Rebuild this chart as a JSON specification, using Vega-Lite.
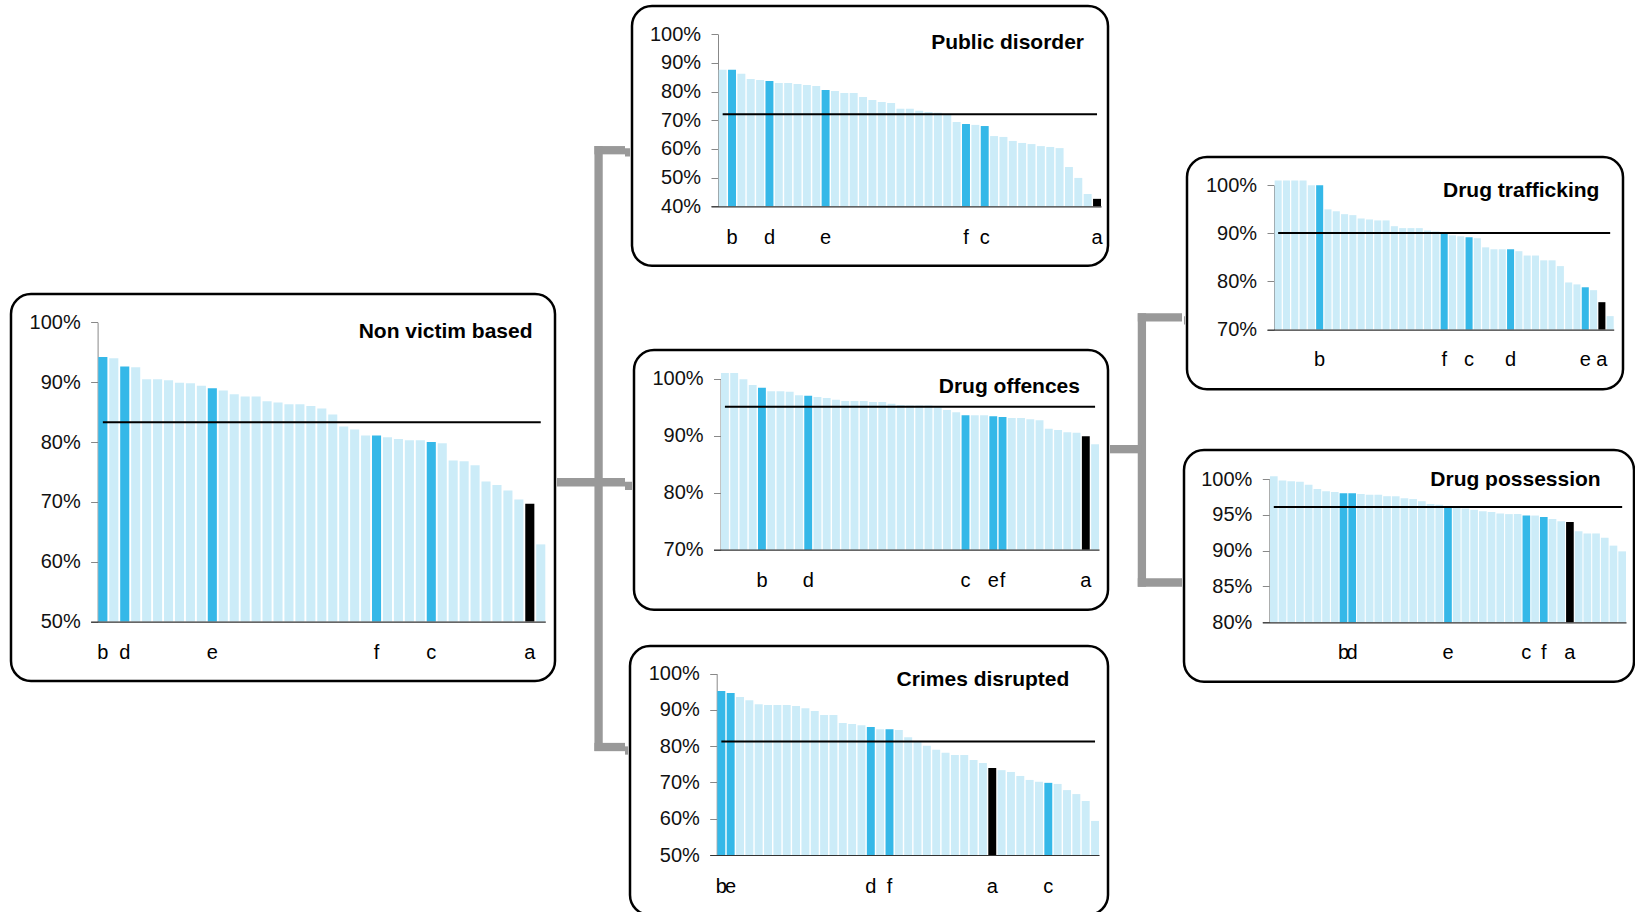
{
"$schema": "https://vega.github.io/schema/vega-lite/v6.json",
"background": "#ffffff",
"padding": 0,
"config": {"view": {"stroke": null}, "concat": {"spacing": 0}, "font": "Liberation Sans"},
"data": {"name": "bars"},
"datasets": {
"bars": [
{"p":"NV","r":1,"v":0.942,"l":"b"},{"p":"NV","r":2,"v":0.94},{"p":"NV","r":3,"v":0.926,"l":"d"},{"p":"NV","r":4,"v":0.925},{"p":"NV","r":5,"v":0.905},{"p":"NV","r":6,"v":0.905},{"p":"NV","r":7,"v":0.903},{"p":"NV","r":8,"v":0.899},{"p":"NV","r":9,"v":0.898},{"p":"NV","r":10,"v":0.894},{"p":"NV","r":11,"v":0.89,"l":"e"},{"p":"NV","r":12,"v":0.886},{"p":"NV","r":13,"v":0.88},{"p":"NV","r":14,"v":0.876},{"p":"NV","r":15,"v":0.876},{"p":"NV","r":16,"v":0.868},{"p":"NV","r":17,"v":0.866},{"p":"NV","r":18,"v":0.863},{"p":"NV","r":19,"v":0.863},{"p":"NV","r":20,"v":0.86},{"p":"NV","r":21,"v":0.856},{"p":"NV","r":22,"v":0.846},{"p":"NV","r":23,"v":0.826},{"p":"NV","r":24,"v":0.821},{"p":"NV","r":25,"v":0.811},{"p":"NV","r":26,"v":0.811,"l":"f"},{"p":"NV","r":27,"v":0.808},{"p":"NV","r":28,"v":0.805},{"p":"NV","r":29,"v":0.803},{"p":"NV","r":30,"v":0.803},{"p":"NV","r":31,"v":0.8,"l":"c"},{"p":"NV","r":32,"v":0.798},{"p":"NV","r":33,"v":0.769},{"p":"NV","r":34,"v":0.768},{"p":"NV","r":35,"v":0.761},{"p":"NV","r":36,"v":0.734},{"p":"NV","r":37,"v":0.728},{"p":"NV","r":38,"v":0.719},{"p":"NV","r":39,"v":0.704},{"p":"NV","r":40,"v":0.697,"l":"a"},{"p":"NV","r":41,"v":0.629},
{"p":"PD","r":1,"v":0.876},{"p":"PD","r":2,"v":0.876,"l":"b"},{"p":"PD","r":3,"v":0.862},{"p":"PD","r":4,"v":0.844},{"p":"PD","r":5,"v":0.841},{"p":"PD","r":6,"v":0.837,"l":"d"},{"p":"PD","r":7,"v":0.83},{"p":"PD","r":8,"v":0.83},{"p":"PD","r":9,"v":0.827},{"p":"PD","r":10,"v":0.823},{"p":"PD","r":11,"v":0.82},{"p":"PD","r":12,"v":0.806,"l":"e"},{"p":"PD","r":13,"v":0.802},{"p":"PD","r":14,"v":0.795},{"p":"PD","r":15,"v":0.795},{"p":"PD","r":16,"v":0.781},{"p":"PD","r":17,"v":0.771},{"p":"PD","r":18,"v":0.764},{"p":"PD","r":19,"v":0.76},{"p":"PD","r":20,"v":0.74},{"p":"PD","r":21,"v":0.74},{"p":"PD","r":22,"v":0.733},{"p":"PD","r":23,"v":0.729},{"p":"PD","r":24,"v":0.726},{"p":"PD","r":25,"v":0.721},{"p":"PD","r":26,"v":0.694},{"p":"PD","r":27,"v":0.687,"l":"f"},{"p":"PD","r":28,"v":0.684},{"p":"PD","r":29,"v":0.68,"l":"c"},{"p":"PD","r":30,"v":0.645},{"p":"PD","r":31,"v":0.642},{"p":"PD","r":32,"v":0.628},{"p":"PD","r":33,"v":0.621},{"p":"PD","r":34,"v":0.617},{"p":"PD","r":35,"v":0.61},{"p":"PD","r":36,"v":0.607},{"p":"PD","r":37,"v":0.603},{"p":"PD","r":38,"v":0.537},{"p":"PD","r":39,"v":0.499},{"p":"PD","r":40,"v":0.443},{"p":"PD","r":41,"v":0.426,"l":"a"},
{"p":"DO","r":1,"v":1.01},{"p":"DO","r":2,"v":1.01},{"p":"DO","r":3,"v":0.999},{"p":"DO","r":4,"v":0.989},{"p":"DO","r":5,"v":0.984,"l":"b"},{"p":"DO","r":6,"v":0.978},{"p":"DO","r":7,"v":0.978},{"p":"DO","r":8,"v":0.977},{"p":"DO","r":9,"v":0.971},{"p":"DO","r":10,"v":0.97,"l":"d"},{"p":"DO","r":11,"v":0.968},{"p":"DO","r":12,"v":0.966},{"p":"DO","r":13,"v":0.963},{"p":"DO","r":14,"v":0.961},{"p":"DO","r":15,"v":0.961},{"p":"DO","r":16,"v":0.961},{"p":"DO","r":17,"v":0.959},{"p":"DO","r":18,"v":0.959},{"p":"DO","r":19,"v":0.956},{"p":"DO","r":20,"v":0.954},{"p":"DO","r":21,"v":0.953},{"p":"DO","r":22,"v":0.953},{"p":"DO","r":23,"v":0.953},{"p":"DO","r":24,"v":0.95},{"p":"DO","r":25,"v":0.945},{"p":"DO","r":26,"v":0.941},{"p":"DO","r":27,"v":0.936,"l":"c"},{"p":"DO","r":28,"v":0.936},{"p":"DO","r":29,"v":0.936},{"p":"DO","r":30,"v":0.934,"l":"e"},{"p":"DO","r":31,"v":0.933,"l":"f"},{"p":"DO","r":32,"v":0.931},{"p":"DO","r":33,"v":0.931},{"p":"DO","r":34,"v":0.929},{"p":"DO","r":35,"v":0.927},{"p":"DO","r":36,"v":0.912},{"p":"DO","r":37,"v":0.91},{"p":"DO","r":38,"v":0.906},{"p":"DO","r":39,"v":0.905},{"p":"DO","r":40,"v":0.899,"l":"a"},{"p":"DO","r":41,"v":0.885},
{"p":"CD","r":1,"v":0.952,"l":"b"},{"p":"CD","r":2,"v":0.947,"l":"e"},{"p":"CD","r":3,"v":0.936},{"p":"CD","r":4,"v":0.927},{"p":"CD","r":5,"v":0.916},{"p":"CD","r":6,"v":0.914},{"p":"CD","r":7,"v":0.914},{"p":"CD","r":8,"v":0.914},{"p":"CD","r":9,"v":0.911},{"p":"CD","r":10,"v":0.905},{"p":"CD","r":11,"v":0.897},{"p":"CD","r":12,"v":0.886},{"p":"CD","r":13,"v":0.886},{"p":"CD","r":14,"v":0.864},{"p":"CD","r":15,"v":0.861},{"p":"CD","r":16,"v":0.858},{"p":"CD","r":17,"v":0.853,"l":"d"},{"p":"CD","r":18,"v":0.847},{"p":"CD","r":19,"v":0.847,"l":"f"},{"p":"CD","r":20,"v":0.845},{"p":"CD","r":21,"v":0.825},{"p":"CD","r":22,"v":0.812},{"p":"CD","r":23,"v":0.801},{"p":"CD","r":24,"v":0.79},{"p":"CD","r":25,"v":0.782},{"p":"CD","r":26,"v":0.776},{"p":"CD","r":27,"v":0.776},{"p":"CD","r":28,"v":0.762},{"p":"CD","r":29,"v":0.754},{"p":"CD","r":30,"v":0.74,"l":"a"},{"p":"CD","r":31,"v":0.734},{"p":"CD","r":32,"v":0.729},{"p":"CD","r":33,"v":0.718},{"p":"CD","r":34,"v":0.707},{"p":"CD","r":35,"v":0.702},{"p":"CD","r":36,"v":0.699,"l":"c"},{"p":"CD","r":37,"v":0.696},{"p":"CD","r":38,"v":0.679},{"p":"CD","r":39,"v":0.668},{"p":"CD","r":40,"v":0.649},{"p":"CD","r":41,"v":0.594},
{"p":"DT","r":1,"v":1.01},{"p":"DT","r":2,"v":1.01},{"p":"DT","r":3,"v":1.01},{"p":"DT","r":4,"v":1.01},{"p":"DT","r":5,"v":1.0},{"p":"DT","r":6,"v":1.0,"l":"b"},{"p":"DT","r":7,"v":0.95},{"p":"DT","r":8,"v":0.946},{"p":"DT","r":9,"v":0.94},{"p":"DT","r":10,"v":0.938},{"p":"DT","r":11,"v":0.931},{"p":"DT","r":12,"v":0.929},{"p":"DT","r":13,"v":0.927},{"p":"DT","r":14,"v":0.927},{"p":"DT","r":15,"v":0.915},{"p":"DT","r":16,"v":0.911},{"p":"DT","r":17,"v":0.911},{"p":"DT","r":18,"v":0.911},{"p":"DT","r":19,"v":0.906},{"p":"DT","r":20,"v":0.904},{"p":"DT","r":21,"v":0.9,"l":"f"},{"p":"DT","r":22,"v":0.896},{"p":"DT","r":23,"v":0.894},{"p":"DT","r":24,"v":0.892,"l":"c"},{"p":"DT","r":25,"v":0.89},{"p":"DT","r":26,"v":0.871},{"p":"DT","r":27,"v":0.867},{"p":"DT","r":28,"v":0.867},{"p":"DT","r":29,"v":0.867,"l":"d"},{"p":"DT","r":30,"v":0.863},{"p":"DT","r":31,"v":0.854},{"p":"DT","r":32,"v":0.854},{"p":"DT","r":33,"v":0.844},{"p":"DT","r":34,"v":0.844},{"p":"DT","r":35,"v":0.832},{"p":"DT","r":36,"v":0.798},{"p":"DT","r":37,"v":0.794},{"p":"DT","r":38,"v":0.788,"l":"e"},{"p":"DT","r":39,"v":0.782},{"p":"DT","r":40,"v":0.757,"l":"a"},{"p":"DT","r":41,"v":0.728},
{"p":"DP","r":1,"v":1.004},{"p":"DP","r":2,"v":0.998},{"p":"DP","r":3,"v":0.997},{"p":"DP","r":4,"v":0.996},{"p":"DP","r":5,"v":0.992},{"p":"DP","r":6,"v":0.986},{"p":"DP","r":7,"v":0.983},{"p":"DP","r":8,"v":0.982},{"p":"DP","r":9,"v":0.98,"l":"b"},{"p":"DP","r":10,"v":0.98,"l":"d"},{"p":"DP","r":11,"v":0.979},{"p":"DP","r":12,"v":0.978},{"p":"DP","r":13,"v":0.978},{"p":"DP","r":14,"v":0.976},{"p":"DP","r":15,"v":0.976},{"p":"DP","r":16,"v":0.973},{"p":"DP","r":17,"v":0.972},{"p":"DP","r":18,"v":0.969},{"p":"DP","r":19,"v":0.965},{"p":"DP","r":20,"v":0.964},{"p":"DP","r":21,"v":0.962,"l":"e"},{"p":"DP","r":22,"v":0.96},{"p":"DP","r":23,"v":0.959},{"p":"DP","r":24,"v":0.957},{"p":"DP","r":25,"v":0.955},{"p":"DP","r":26,"v":0.954},{"p":"DP","r":27,"v":0.952},{"p":"DP","r":28,"v":0.951},{"p":"DP","r":29,"v":0.951},{"p":"DP","r":30,"v":0.949,"l":"c"},{"p":"DP","r":31,"v":0.949},{"p":"DP","r":32,"v":0.947,"l":"f"},{"p":"DP","r":33,"v":0.944},{"p":"DP","r":34,"v":0.941},{"p":"DP","r":35,"v":0.94,"l":"a"},{"p":"DP","r":36,"v":0.927},{"p":"DP","r":37,"v":0.924},{"p":"DP","r":38,"v":0.924},{"p":"DP","r":39,"v":0.918},{"p":"DP","r":40,"v":0.907},{"p":"DP","r":41,"v":0.899}
],
"avg": [{"p":"NV","m":0.833},{"p":"PD","m":0.721},{"p":"DO","m":0.951},{"p":"CD","m":0.813},{"p":"DT","m":0.901},{"p":"DP","m":0.961}],
"tree1": [
{"x":61.15,"x2":61.15,"y":16.0,"y2":82.35},
{"x":54.95,"x2":100,"y":16.47,"y2":16.47},
{"x":0,"x2":100,"y":52.88,"y2":52.88},
{"x":54.95,"x2":100,"y":81.91,"y2":81.91}
],
"tree2": [
{"x":44.3,"x2":44.3,"y":34.35,"y2":64.33},
{"x":38.57,"x2":100,"y":34.81,"y2":34.81},
{"x":0,"x2":44.3,"y":49.25,"y2":49.25},
{"x":38.57,"x2":100,"y":63.87,"y2":63.87}
]
},
"spacing": 0,
"hconcat": [
{"width": 9, "height": 1, "data": {"values": []}, "mark": "point"},
{"spacing": 0, "vconcat": [
  {"width": 1, "height": 291.2, "data": {"values": []}, "mark": "point"},
  {"width": 544, "height": 387,
   "view": {"stroke": "#000000", "strokeWidth": 2.5, "cornerRadius": 20, "fill": "#ffffff"},
   "encoding": {
     "x": {"field": "r", "type": "ordinal", "scale": {"range": [79.6, 534.3], "paddingInner": 0.17, "paddingOuter": 0.352, "align": 1, "round": false}, "axis": {"orient": "bottom", "offset": -59.4, "labels": false, "ticks": false, "domainColor": "#333333", "domainWidth": 1.2, "title": null, "grid": false, "zindex": 1}},
     "y": {"field": "v", "type": "quantitative", "scale": {"domain": [0.5, 1], "range": [327.6, 28.3], "zero": false, "nice": false}, "axis": {"orient": "left", "offset": -86.6, "values": [0.5, 0.6, 0.7, 0.8, 0.9, 1], "format": ".0%", "labelFont": "Liberation Sans", "labelFontSize": 20, "labelColor": "#111111", "labelPadding": 10.4, "tickSize": 7, "tickColor": "#888888", "domainColor": "#888888", "grid": false, "title": null, "labelOverlap": false, "labelBound": false, "labelFlush": false}}
   },
   "layer": [
     {"transform": [{"filter": "datum.p == 'NV'"}], "mark": {"type": "bar"}, "encoding": {"y2": {"datum": 0.5}, "color": {"condition": [{"test": "datum.l === 'a'", "value": "#000000"}, {"test": "isValid(datum.l)", "value": "#35B8E8"}], "value": "#CCECF8"}}},
     {"data": {"name": "avg"}, "transform": [{"filter": "datum.p == 'NV'"}], "mark": {"type": "rule", "color": "#000000", "strokeWidth": 2}, "encoding": {"x": {"datum": 1}, "x2": {"datum": 41}, "y": {"field": "m", "type": "quantitative"}}},
     {"transform": [{"filter": "datum.p == 'NV' && datum.r == 41"}], "mark": {"type": "text", "text": "Non victim based", "font": "Liberation Sans", "fontSize": 21, "fontWeight": "bold", "align": "right", "baseline": "alphabetic", "dx": -8.2, "dy": 15.3, "color": "#000000"}, "encoding": {"y": {"datum": 1}}},
     {"transform": [{"filter": "datum.p == 'NV' && isValid(datum.l)"}], "mark": {"type": "text", "font": "Liberation Sans", "fontSize": 20, "baseline": "alphabetic", "align": "center", "dy": 37.5, "color": "#000000"}, "encoding": {"y": {"datum": 0.5}, "text": {"field": "l"}}}
   ]
  }
]},
{"width": 68, "height": 912, "data": {"name": "tree1"},
 "mark": {"type": "rule", "color": "#999999", "strokeWidth": 8.3, "strokeCap": "butt", "clip": true},
 "encoding": {
   "x": {"field": "x", "type": "quantitative", "scale": {"domain": [0, 100], "nice": false, "zero": false}, "axis": null},
   "x2": {"field": "x2"},
   "y": {"field": "y", "type": "quantitative", "scale": {"domain": [0, 100], "nice": false, "zero": false, "reverse": true}, "axis": null},
   "y2": {"field": "y2"}
 }
},
{"spacing": 0, "vconcat": [
  {"width": 1, "height": 3.5, "data": {"values": []}, "mark": "point"},
  {"spacing": 0, "hconcat": [
    {"width": 5, "height": 259.7, "data": {"values": [{"y": 56.4}]},
     "mark": {"type": "rule", "color": "#999999", "strokeWidth": 8.3, "strokeCap": "butt", "clip": true},
     "encoding": {"y": {"field": "y", "type": "quantitative", "scale": {"domain": [0, 100], "nice": false, "zero": false, "reverse": true}, "axis": null}}},
    {"width": 476, "height": 259.7,
     "view": {"stroke": "#000000", "strokeWidth": 2.5, "cornerRadius": 20, "fill": "#ffffff"},
     "encoding": {
       "x": {"field": "r", "type": "ordinal", "scale": {"range": [79, 469], "paddingInner": 0.15, "paddingOuter": 0.41, "align": 1, "round": false}, "axis": {"orient": "bottom", "offset": -59.4, "labels": false, "ticks": false, "domainColor": "#333333", "domainWidth": 1.2, "title": null, "grid": false, "zindex": 1}},
       "y": {"field": "v", "type": "quantitative", "scale": {"domain": [0.4, 1], "range": [200.3, 28.3], "zero": false, "nice": false}, "axis": {"orient": "left", "offset": -86, "values": [0.4, 0.5, 0.6, 0.7, 0.8, 0.9, 1], "format": ".0%", "labelFont": "Liberation Sans", "labelFontSize": 20, "labelColor": "#111111", "labelPadding": 10.4, "tickSize": 7, "tickColor": "#888888", "domainColor": "#888888", "grid": false, "title": null, "labelOverlap": false, "labelBound": false, "labelFlush": false}}
     },
     "layer": [
       {"transform": [{"filter": "datum.p == 'PD'"}], "mark": {"type": "bar"}, "encoding": {"y2": {"datum": 0.4}, "color": {"condition": [{"test": "datum.l === 'a'", "value": "#000000"}, {"test": "isValid(datum.l)", "value": "#35B8E8"}], "value": "#CCECF8"}}},
       {"data": {"name": "avg"}, "transform": [{"filter": "datum.p == 'PD'"}], "mark": {"type": "rule", "color": "#000000", "strokeWidth": 2}, "encoding": {"x": {"datum": 1}, "x2": {"datum": 41}, "y": {"field": "m", "type": "quantitative"}}},
       {"transform": [{"filter": "datum.p == 'PD' && datum.r == 41"}], "mark": {"type": "text", "text": "Public disorder", "font": "Liberation Sans", "fontSize": 21, "fontWeight": "bold", "align": "right", "baseline": "alphabetic", "dx": -13, "dy": 15, "color": "#000000"}, "encoding": {"y": {"datum": 1}}},
       {"transform": [{"filter": "datum.p == 'PD' && isValid(datum.l)"}], "mark": {"type": "text", "font": "Liberation Sans", "fontSize": 20, "baseline": "alphabetic", "align": "center", "dy": 37.5, "color": "#000000"}, "encoding": {"y": {"datum": 0.4}, "text": {"field": "l"}}}
     ]
    }
  ]},
  {"width": 1, "height": 80.6, "data": {"values": []}, "mark": "point"},
  {"spacing": 0, "hconcat": [
    {"width": 7, "height": 259.7, "data": {"values": [{"y": 52.29}]},
     "mark": {"type": "rule", "color": "#999999", "strokeWidth": 8.3, "strokeCap": "butt", "clip": true},
     "encoding": {"y": {"field": "y", "type": "quantitative", "scale": {"domain": [0, 100], "nice": false, "zero": false, "reverse": true}, "axis": null}}},
    {"width": 474, "height": 259.7,
     "view": {"stroke": "#000000", "strokeWidth": 2.5, "cornerRadius": 20, "fill": "#ffffff"},
     "encoding": {
       "x": {"field": "r", "type": "ordinal", "scale": {"range": [79.5, 465], "paddingInner": 0.15, "paddingOuter": 0.405, "align": 1, "round": false}, "axis": {"orient": "bottom", "offset": -60, "labels": false, "ticks": false, "domainColor": "#333333", "domainWidth": 1.2, "title": null, "grid": false, "zindex": 1}},
       "y": {"field": "v", "type": "quantitative", "scale": {"domain": [0.7, 1], "range": [199.7, 28.7], "zero": false, "nice": false}, "axis": {"orient": "left", "offset": -86.5, "values": [0.7, 0.8, 0.9, 1], "format": ".0%", "labelFont": "Liberation Sans", "labelFontSize": 20, "labelColor": "#111111", "labelPadding": 10.4, "tickSize": 7, "tickColor": "#888888", "domainColor": "#888888", "grid": false, "title": null, "labelOverlap": false, "labelBound": false, "labelFlush": false}}
     },
     "layer": [
       {"transform": [{"filter": "datum.p == 'DO'"}], "mark": {"type": "bar"}, "encoding": {"y2": {"datum": 0.7}, "color": {"condition": [{"test": "datum.l === 'a'", "value": "#000000"}, {"test": "isValid(datum.l)", "value": "#35B8E8"}], "value": "#CCECF8"}}},
       {"data": {"name": "avg"}, "transform": [{"filter": "datum.p == 'DO'"}], "mark": {"type": "rule", "color": "#000000", "strokeWidth": 2}, "encoding": {"x": {"datum": 1}, "x2": {"datum": 41}, "y": {"field": "m", "type": "quantitative"}}},
       {"transform": [{"filter": "datum.p == 'DO' && datum.r == 41"}], "mark": {"type": "text", "text": "Drug offences", "font": "Liberation Sans", "fontSize": 21, "fontWeight": "bold", "align": "right", "baseline": "alphabetic", "dx": -15.1, "dy": 14, "color": "#000000"}, "encoding": {"y": {"datum": 1}}},
       {"transform": [{"filter": "datum.p == 'DO' && isValid(datum.l)"}], "mark": {"type": "text", "font": "Liberation Sans", "fontSize": 20, "baseline": "alphabetic", "align": "center", "dy": 37.3, "color": "#000000"}, "encoding": {"y": {"datum": 0.7}, "text": {"field": "l"}}}
     ]
    }
  ]},
  {"width": 1, "height": 32.3, "data": {"values": []}, "mark": "point"},
  {"spacing": 0, "hconcat": [
    {"width": 3, "height": 269, "data": {"values": [{"y": 38.85}]},
     "mark": {"type": "rule", "color": "#999999", "strokeWidth": 8.3, "strokeCap": "butt", "clip": true},
     "encoding": {"y": {"field": "y", "type": "quantitative", "scale": {"domain": [0, 100], "nice": false, "zero": false, "reverse": true}, "axis": null}}},
    {"width": 478, "height": 269,
     "view": {"stroke": "#000000", "strokeWidth": 2.5, "cornerRadius": 20, "fill": "#ffffff"},
     "encoding": {
       "x": {"field": "r", "type": "ordinal", "scale": {"range": [79.7, 469], "paddingInner": 0.15, "paddingOuter": 0.41, "align": 1, "round": false}, "axis": {"orient": "bottom", "offset": -60, "labels": false, "ticks": false, "domainColor": "#333333", "domainWidth": 1.2, "title": null, "grid": false, "zindex": 1}},
       "y": {"field": "v", "type": "quantitative", "scale": {"domain": [0.5, 1], "range": [209, 27.7], "zero": false, "nice": false}, "axis": {"orient": "left", "offset": -86.7, "values": [0.5, 0.6, 0.7, 0.8, 0.9, 1], "format": ".0%", "labelFont": "Liberation Sans", "labelFontSize": 20, "labelColor": "#111111", "labelPadding": 10.4, "tickSize": 7, "tickColor": "#888888", "domainColor": "#888888", "grid": false, "title": null, "labelOverlap": false, "labelBound": false, "labelFlush": false}}
     },
     "layer": [
       {"transform": [{"filter": "datum.p == 'CD'"}], "mark": {"type": "bar"}, "encoding": {"y2": {"datum": 0.5}, "color": {"condition": [{"test": "datum.l === 'a'", "value": "#000000"}, {"test": "isValid(datum.l)", "value": "#35B8E8"}], "value": "#CCECF8"}}},
       {"data": {"name": "avg"}, "transform": [{"filter": "datum.p == 'CD'"}], "mark": {"type": "rule", "color": "#000000", "strokeWidth": 2}, "encoding": {"x": {"datum": 1}, "x2": {"datum": 41}, "y": {"field": "m", "type": "quantitative"}}},
       {"transform": [{"filter": "datum.p == 'CD' && datum.r == 41"}], "mark": {"type": "text", "text": "Crimes disrupted", "font": "Liberation Sans", "fontSize": 21, "fontWeight": "bold", "align": "right", "baseline": "alphabetic", "dx": -25.7, "dy": 12.3, "color": "#000000"}, "encoding": {"y": {"datum": 1}}},
       {"transform": [{"filter": "datum.p == 'CD' && isValid(datum.l)"}], "mark": {"type": "text", "font": "Liberation Sans", "fontSize": 20, "baseline": "alphabetic", "align": "center", "dy": 38.3, "color": "#000000"}, "encoding": {"y": {"datum": 0.5}, "text": {"field": "l"}}}
     ]
    }
  ]}
]},
{"width": 72, "height": 912, "data": {"name": "tree2"},
 "mark": {"type": "rule", "color": "#999999", "strokeWidth": 8.3, "strokeCap": "butt", "clip": true},
 "encoding": {
   "x": {"field": "x", "type": "quantitative", "scale": {"domain": [0, 100], "nice": false, "zero": false}, "axis": null},
   "x2": {"field": "x2"},
   "y": {"field": "y", "type": "quantitative", "scale": {"domain": [0, 100], "nice": false, "zero": false, "reverse": true}, "axis": null},
   "y2": {"field": "y2"}
 }
},
{"spacing": 0, "vconcat": [
  {"width": 1, "height": 154.2, "data": {"values": []}, "mark": "point"},
  {"spacing": 0, "hconcat": [
    {"width": 1, "height": 232.3, "data": {"values": [{"y": 70.3}]},
     "mark": {"type": "rule", "color": "#999999", "strokeWidth": 8.3, "strokeCap": "butt", "clip": true},
     "encoding": {"y": {"field": "y", "type": "quantitative", "scale": {"domain": [0, 100], "nice": false, "zero": false, "reverse": true}, "axis": null}}},
    {"width": 436, "height": 232.3,
     "view": {"stroke": "#000000", "strokeWidth": 2.5, "cornerRadius": 20, "fill": "#ffffff"},
     "encoding": {
       "x": {"field": "r", "type": "ordinal", "scale": {"range": [80, 426.7], "paddingInner": 0.15, "paddingOuter": 0.46, "align": 1, "round": false}, "axis": {"orient": "bottom", "offset": -59.7, "labels": false, "ticks": false, "domainColor": "#333333", "domainWidth": 1.2, "title": null, "grid": false, "zindex": 1}},
       "y": {"field": "v", "type": "quantitative", "scale": {"domain": [0.7, 1], "range": [172.6, 28.3], "zero": false, "nice": false}, "axis": {"orient": "left", "offset": -87, "values": [0.7, 0.8, 0.9, 1], "format": ".0%", "labelFont": "Liberation Sans", "labelFontSize": 20, "labelColor": "#111111", "labelPadding": 10.4, "tickSize": 7, "tickColor": "#888888", "domainColor": "#888888", "grid": false, "title": null, "labelOverlap": false, "labelBound": false, "labelFlush": false}}
     },
     "layer": [
       {"transform": [{"filter": "datum.p == 'DT'"}], "mark": {"type": "bar"}, "encoding": {"y2": {"datum": 0.7}, "color": {"condition": [{"test": "datum.l === 'a'", "value": "#000000"}, {"test": "isValid(datum.l)", "value": "#35B8E8"}], "value": "#CCECF8"}}},
       {"data": {"name": "avg"}, "transform": [{"filter": "datum.p == 'DT'"}], "mark": {"type": "rule", "color": "#000000", "strokeWidth": 2}, "encoding": {"x": {"datum": 1}, "x2": {"datum": 41}, "y": {"field": "m", "type": "quantitative"}}},
       {"transform": [{"filter": "datum.p == 'DT' && datum.r == 41"}], "mark": {"type": "text", "text": "Drug trafficking", "font": "Liberation Sans", "fontSize": 21, "fontWeight": "bold", "align": "right", "baseline": "alphabetic", "dx": -10.8, "dy": 11.7, "color": "#000000"}, "encoding": {"y": {"datum": 1}}},
       {"transform": [{"filter": "datum.p == 'DT' && isValid(datum.l)"}], "mark": {"type": "text", "font": "Liberation Sans", "fontSize": 20, "baseline": "alphabetic", "align": "center", "dy": 36.7, "color": "#000000"}, "encoding": {"y": {"datum": 0.7}, "text": {"field": "l"}}}
     ]
    }
  ]},
  {"width": 1, "height": 56.5, "data": {"values": []}, "mark": "point"},
  {"width": 450, "height": 231.7,
   "view": {"stroke": "#000000", "strokeWidth": 2.5, "cornerRadius": 20, "fill": "#ffffff"},
   "encoding": {
     "x": {"field": "r", "type": "ordinal", "scale": {"range": [78.3, 442], "paddingInner": 0.12, "paddingOuter": 0.44, "align": 1, "round": false}, "axis": {"orient": "bottom", "offset": -59.4, "labels": false, "ticks": false, "domainColor": "#333333", "domainWidth": 1.2, "title": null, "grid": false, "zindex": 1}},
     "y": {"field": "v", "type": "quantitative", "scale": {"domain": [0.8, 1], "range": [172.3, 29], "zero": false, "nice": false}, "axis": {"orient": "left", "offset": -85.3, "values": [0.8, 0.85, 0.9, 0.95, 1], "format": ".0%", "labelFont": "Liberation Sans", "labelFontSize": 20, "labelColor": "#111111", "labelPadding": 10.4, "tickSize": 7, "tickColor": "#888888", "domainColor": "#888888", "grid": false, "title": null, "labelOverlap": false, "labelBound": false, "labelFlush": false}}
   },
   "layer": [
     {"transform": [{"filter": "datum.p == 'DP'"}], "mark": {"type": "bar"}, "encoding": {"y2": {"datum": 0.8}, "color": {"condition": [{"test": "datum.l === 'a'", "value": "#000000"}, {"test": "isValid(datum.l)", "value": "#35B8E8"}], "value": "#CCECF8"}}},
     {"data": {"name": "avg"}, "transform": [{"filter": "datum.p == 'DP'"}], "mark": {"type": "rule", "color": "#000000", "strokeWidth": 2}, "encoding": {"x": {"datum": 1}, "x2": {"datum": 41}, "y": {"field": "m", "type": "quantitative"}}},
     {"transform": [{"filter": "datum.p == 'DP' && datum.r == 41"}], "mark": {"type": "text", "text": "Drug possession", "font": "Liberation Sans", "fontSize": 21, "fontWeight": "bold", "align": "right", "baseline": "alphabetic", "dx": -21.5, "dy": 6.7, "color": "#000000"}, "encoding": {"y": {"datum": 1}}},
     {"transform": [{"filter": "datum.p == 'DP' && isValid(datum.l)"}], "mark": {"type": "text", "font": "Liberation Sans", "fontSize": 20, "baseline": "alphabetic", "align": "center", "dy": 36.7, "color": "#000000"}, "encoding": {"y": {"datum": 0.8}, "text": {"field": "l"}}}
   ]
  }
]}
]
}
